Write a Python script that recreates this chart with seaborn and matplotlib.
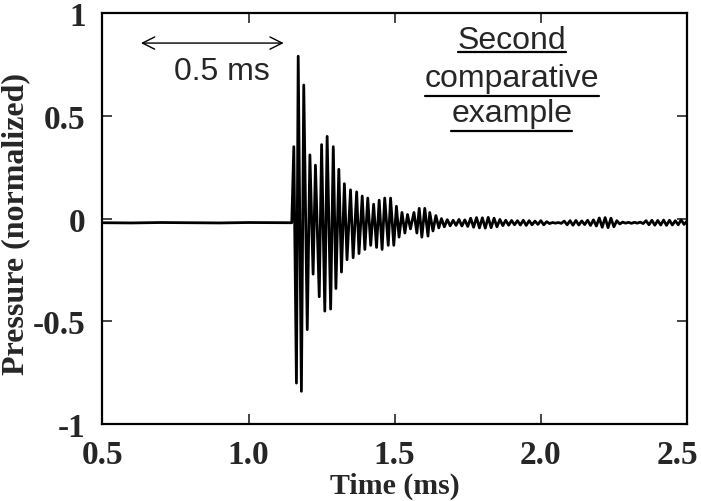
import numpy as np
import pandas as pd
import matplotlib
matplotlib.use("Agg")
import matplotlib.pyplot as plt
import matplotlib.transforms as mtransforms
import seaborn as sns
from matplotlib.lines import Line2D

# quiet baseline before the burst
base_time = [0.50, 0.60, 0.70, 0.80, 0.90, 1.00, 1.10, 1.148]
base_val = [-0.020, -0.021, -0.019, -0.020, -0.021, -0.019, -0.020, -0.020]

# burst: alternating peaks
burst_time = [1.155, 1.164, 1.170, 1.181, 1.189, 1.201, 1.210, 1.221, 1.229, 1.242,
              1.250, 1.261, 1.269, 1.281, 1.290, 1.299, 1.309, 1.318, 1.328, 1.337,
              1.349, 1.358, 1.370, 1.378, 1.389, 1.398, 1.408, 1.418, 1.428, 1.438,
              1.447, 1.457, 1.466, 1.478, 1.486, 1.497, 1.506, 1.515, 1.525, 1.535,
              1.544, 1.554, 1.566, 1.576, 1.584, 1.593, 1.603, 1.614, 1.620, 1.631,
              1.641, 1.651, 1.660, 1.670]
burst_val = [0.35, -0.80, 0.79, -0.84, 0.65, -0.54, 0.31, -0.27, 0.26, -0.38,
             0.36, -0.45, 0.40, -0.44, 0.35, -0.34, 0.24, -0.26, 0.17, -0.20,
             0.14, -0.19, 0.13, -0.17, 0.11, -0.15, 0.10, -0.13, 0.07, -0.14,
             0.09, -0.15, 0.10, -0.13, 0.10, -0.13, 0.06, -0.09, 0.03, -0.07,
             0.02, -0.05, 0.03, -0.07, 0.05, -0.09, 0.05, -0.085, 0.03, -0.06,
             0.015, -0.045, 0.0, -0.04]

# low-level ringing tail
tail_time = [1.68, 1.69, 1.70, 1.71, 1.72, 1.73, 1.74, 1.75, 1.76, 1.77,
             1.78, 1.79, 1.80, 1.81, 1.82, 1.83, 1.84, 1.85, 1.86, 1.87,
             1.88, 1.89, 1.90, 1.91, 1.92, 1.93, 1.94, 1.95, 1.96, 1.97,
             1.98, 1.99, 2.00, 2.01, 2.02, 2.03, 2.04, 2.05, 2.06, 2.07,
             2.08, 2.09, 2.10, 2.11, 2.12, 2.13, 2.14, 2.15, 2.16, 2.17,
             2.18, 2.19, 2.20, 2.21, 2.22, 2.23, 2.24, 2.25, 2.26, 2.27,
             2.28, 2.29, 2.30, 2.31, 2.32, 2.33, 2.34, 2.35, 2.36, 2.37,
             2.38, 2.39, 2.40, 2.41, 2.42, 2.43, 2.44, 2.45, 2.46, 2.47,
             2.48, 2.49, 2.50]
tail_val = [-0.005, -0.035, -0.008, -0.033, -0.004, -0.036, -0.006, -0.038, 0.002, -0.042,
            0.005, -0.045, 0.004, -0.046, 0.006, -0.044, 0.002, -0.040, -0.004, -0.034,
            -0.008, -0.032, -0.009, -0.030, -0.010, -0.031, -0.008, -0.033, -0.010, -0.030,
            -0.012, -0.028, -0.010, -0.030, -0.015, -0.024, -0.019, -0.022, -0.019, -0.023,
            -0.012, -0.030, -0.010, -0.032, -0.009, -0.031, -0.011, -0.029, -0.008, -0.033,
            -0.006, -0.036, 0.003, -0.042, 0.005, -0.044, 0.002, -0.040, -0.010, -0.026,
            -0.017, -0.022, -0.018, -0.023, -0.018, -0.022, -0.017, -0.024, -0.010, -0.030,
            -0.008, -0.032, -0.009, -0.031, -0.007, -0.033, -0.008, -0.031, -0.010, -0.030,
            -0.006, -0.028, -0.012]

x_ticks = [0.5, 1.0, 1.5, 2.0, 2.5]
x_labels = ["0.5", "1.0", "1.5", "2.0", "2.5"]
y_ticks = [-1, -0.5, 0, 0.5, 1]
y_labels = ["-1", "-0.5", "0", "0.5", "1"]

df = pd.DataFrame({
    "time": base_time + burst_time + tail_time,
    "pressure": base_val + burst_val + tail_val,
})

sns.set_style("ticks")
plt.rcParams["font.family"] = ["Liberation Serif", "DejaVu Serif"]

fig = plt.figure(figsize=(7.01, 5.02), dpi=100)
ax = fig.add_axes([0.146, 0.153, 0.834, 0.819])

sns.lineplot(data=df, x="time", y="pressure", sort=False, estimator=None,
             color="black", linewidth=2.0, ax=ax)

ax.set_xlim(0.5, 2.5)
ax.set_ylim(-1, 1)
ax.set_xticks(x_ticks)
ax.set_xticklabels(x_labels)
ax.set_yticks(y_ticks)
ax.set_yticklabels(y_labels)
ax.tick_params(direction="in", length=7, width=1.2, top=True, right=True,
               labelsize=24)
ax.tick_params(axis="x", pad=11)
ax.tick_params(axis="y", pad=12)
for lab in ax.get_xticklabels() + ax.get_yticklabels():
    lab.set_fontweight("bold")
for sp in ax.spines.values():
    sp.set_linewidth(1.6)
    sp.set_color("black")

# keep the last x label inside the figure, as in the original
last = ax.get_xticklabels()[-1]
last.set_transform(last.get_transform() +
                   mtransforms.ScaledTranslation(-7 / 72, 0, fig.dpi_scale_trans))

ax.set_xlabel("Time (ms)", fontsize=21.5, fontweight="bold", labelpad=1)
ax.set_ylabel("Pressure (normalized)", fontsize=23, fontweight="bold")
ax.yaxis.set_label_coords(-0.124, 0.49)

# 0.5 ms scale arrow
ax.annotate("", xy=(0.6225, 0.854), xytext=(1.130, 0.854),
            arrowprops=dict(arrowstyle="<->", color="black", lw=1.0,
                            mutation_scale=22))
ax.text(0.9105, 0.679, "0.5 ms", fontsize=23, family="Liberation Sans",
        ha="center", va="baseline")

# underlined caption
caption = [("Second", 0.828, 0.809), ("comparative", 0.646, 0.595), ("example", 0.476, 0.427)]
texts = []
for s, yb, yu in caption:
    t = ax.text(1.901, yb, s, fontsize=23, family="Liberation Sans",
                ha="center", va="baseline")
    texts.append((t, yu))

fig.canvas.draw()
inv = ax.transData.inverted()
for t, yu in texts:
    bb = t.get_window_extent()
    x0 = inv.transform((bb.x0, 0))[0]
    x1 = inv.transform((bb.x1, 0))[0]
    ax.add_line(Line2D([x0, x1], [yu, yu], color="black", lw=1.6))

fig.savefig("out.png", dpi=100)
